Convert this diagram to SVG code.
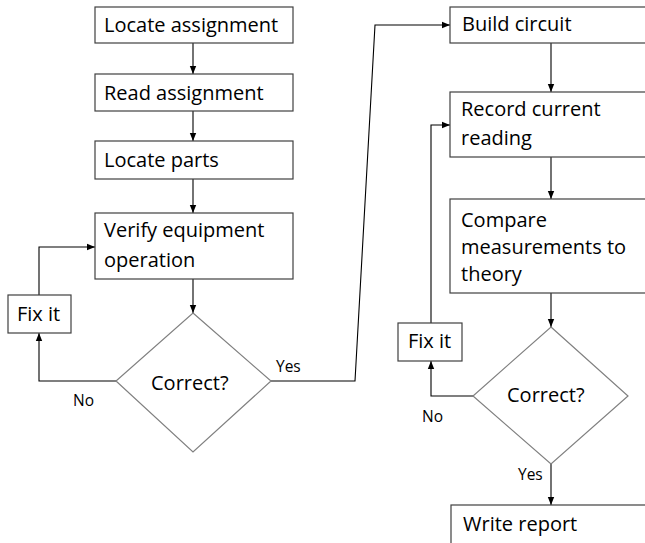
<svg xmlns="http://www.w3.org/2000/svg" width="645" height="543" viewBox="0 0 645 543">
  <defs>
    <marker id="arrow" viewBox="0 0 8 8" refX="8" refY="4" markerWidth="8" markerHeight="8" markerUnits="userSpaceOnUse" orient="auto">
      <path d="M0,0.8 L8,4 L0,7.2 Z" fill="#000"/>
    </marker>
    <style>
      .box { fill: #fff; stroke: #404040; stroke-width: 1.2; }
      .dia { fill: #fff; stroke: #808080; stroke-width: 1.2; }
      .lbl { font-family: "Open Sans", "Noto Sans", sans-serif; font-size: 20px; fill: #000; }
      .small { font-family: "Open Sans", "Noto Sans", sans-serif; font-size: 15.5px; fill: #000; }
      .edge { fill: none; stroke: #000; stroke-width: 1.1; }
      .edge-end { marker-end: url(#arrow); }
    </style>
  </defs>
  <rect width="645" height="543" fill="#fff"/>

  <!-- connectors -->
  <g id="connectors">
    <path class="edge edge-end" d="M193,43 V74"/>
    <path class="edge edge-end" d="M193,111 V141"/>
    <path class="edge edge-end" d="M193,179 V213"/>
    <path class="edge edge-end" d="M193,279 V313"/>
    <path class="edge edge-end" d="M116,381 H39 V333"/>
    <path class="edge edge-end" d="M39,295 V247 H95"/>
    <path class="edge edge-end" d="M271,381 H355 L375,25 H450"/>
    <path class="edge edge-end" d="M551,43 V92"/>
    <path class="edge edge-end" d="M551,157 V199"/>
    <path class="edge edge-end" d="M551,293 V327"/>
    <path class="edge edge-end" d="M473,396 H431 V361"/>
    <path class="edge edge-end" d="M431,323 V125 H450"/>
    <path class="edge edge-end" d="M551,464 V505"/>
    <text class="small" x="276" y="372">Yes</text>
    <text class="small" x="73" y="406">No</text>
    <text class="small" x="422" y="422">No</text>
    <text class="small" x="518" y="480">Yes</text>
  </g>

  <!-- left column -->
  <g id="locate-assignment">
    <rect class="box" x="95" y="7" width="198" height="36"/>
    <text class="lbl" x="104" y="32">Locate assignment</text>
  </g>
  <g id="read-assignment">
    <rect class="box" x="95" y="74" width="198" height="37"/>
    <text class="lbl" x="104" y="100">Read assignment</text>
  </g>
  <g id="locate-parts">
    <rect class="box" x="95" y="141" width="198" height="38"/>
    <text class="lbl" x="104" y="167">Locate parts</text>
  </g>
  <g id="verify-equipment">
    <rect class="box" x="95" y="213" width="198" height="66"/>
    <text class="lbl" x="104" y="237">Verify equipment</text>
    <text class="lbl" x="104" y="267">operation</text>
  </g>
  <g id="fix-it-1">
    <rect class="box" x="8" y="295" width="63" height="38"/>
    <text class="lbl" x="17" y="321">Fix it</text>
  </g>
  <g id="correct-1">
    <polygon class="dia" points="193,313 271,381 193,452 116,381"/>
    <text class="lbl" x="151" y="390">Correct?</text>
  </g>

  <!-- right column -->
  <g id="build-circuit">
    <rect class="box" x="450" y="7" width="200" height="36"/>
    <text class="lbl" x="462" y="31">Build circuit</text>
  </g>
  <g id="record-reading">
    <rect class="box" x="450" y="92" width="200" height="65"/>
    <text class="lbl" x="461" y="116">Record current</text>
    <text class="lbl" x="461" y="145">reading</text>
  </g>
  <g id="compare-theory">
    <rect class="box" x="450" y="199" width="200" height="94"/>
    <text class="lbl" x="461" y="227">Compare</text>
    <text class="lbl" x="461" y="254">measurements to</text>
    <text class="lbl" x="461" y="281">theory</text>
  </g>
  <g id="fix-it-2">
    <rect class="box" x="398" y="323" width="64" height="38"/>
    <text class="lbl" x="408" y="348">Fix it</text>
  </g>
  <g id="correct-2">
    <polygon class="dia" points="551,327 628,396 551,464 473,396"/>
    <text class="lbl" x="507" y="402">Correct?</text>
  </g>
  <g id="write-report">
    <rect class="box" x="451" y="505" width="200" height="45"/>
    <text class="lbl" x="463" y="531">Write report</text>
  </g>
</svg>
